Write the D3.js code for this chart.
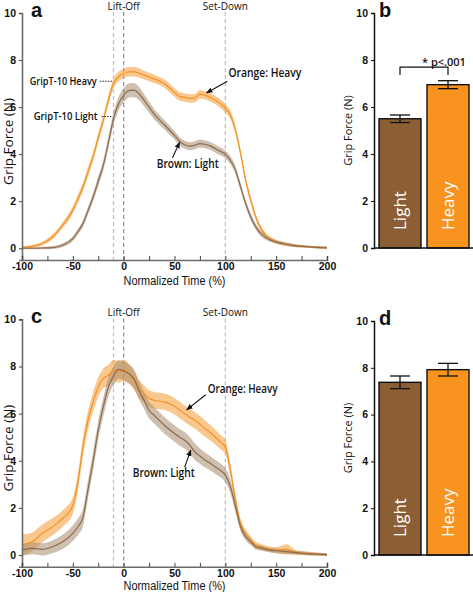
<!DOCTYPE html>
<html><head><meta charset="utf-8">
<script src="https://cdn.jsdelivr.net/npm/d3@7"></script>
<style>body{margin:0;background:#fff} svg{display:block}</style>
</head><body>
<svg id="chart" width="473" height="592"></svg>
<script>
// ---------- DATA ----------
const timePts = [-100,-90,-80,-70,-60,-50,-45,-40,-35,-30,-25,-20,-15,-10,-5,0,5,10,15,20,25,30,40,50,55,60,65,70,75,80,85,90,95,100,105,110,115,120,125,130,135,140,150,160,170,180,190,200];

// Panel a (GripT curves)
const heavyA    = [0.03,0.08,0.2,0.48,0.98,1.62,2.1,2.6,3.25,3.9,4.7,5.45,6.3,7.0,7.3,7.43,7.5,7.5,7.45,7.36,7.28,7.2,7.0,6.62,6.45,6.41,6.37,6.38,6.55,6.5,6.42,6.3,6.15,5.95,5.66,5.02,4.03,2.9,2.04,1.33,0.84,0.55,0.27,0.17,0.1,0.07,0.04,0.02];
const heavyASem = [0.05,0.06,0.08,0.1,0.12,0.15,0.17,0.18,0.2,0.2,0.2,0.2,0.2,0.2,0.2,0.2,0.2,0.2,0.2,0.18,0.18,0.18,0.18,0.18,0.18,0.18,0.18,0.18,0.18,0.18,0.18,0.18,0.18,0.18,0.18,0.18,0.17,0.16,0.15,0.13,0.12,0.1,0.08,0.07,0.06,0.05,0.05,0.05];
const lightA    = [0.0,0.0,0.01,0.03,0.13,0.41,0.7,1.05,1.6,2.18,2.85,3.53,4.5,5.5,6.15,6.5,6.7,6.72,6.58,6.3,6.0,5.7,5.25,4.8,4.55,4.4,4.34,4.38,4.45,4.42,4.35,4.24,4.12,3.99,3.74,3.32,2.61,1.9,1.33,0.91,0.62,0.45,0.27,0.17,0.1,0.07,0.04,0.02];
const lightASem = [0.04,0.04,0.05,0.06,0.08,0.1,0.12,0.14,0.16,0.18,0.2,0.22,0.24,0.26,0.28,0.3,0.3,0.3,0.28,0.26,0.24,0.22,0.2,0.18,0.17,0.17,0.17,0.17,0.17,0.17,0.17,0.17,0.17,0.17,0.17,0.17,0.16,0.15,0.14,0.13,0.12,0.1,0.08,0.07,0.06,0.05,0.05,0.05];

// Panel c (peak-force matched curves)
const heavyC    = [0.42,0.56,0.92,1.2,1.55,2.1,3.1,4.6,5.72,6.5,7.13,7.5,7.63,7.84,7.77,7.84,7.7,7.42,7.06,6.85,6.64,6.57,6.5,6.31,6.15,6.0,5.85,5.72,5.55,5.37,5.2,5.01,4.8,4.59,3.6,2.33,1.34,0.92,0.64,0.42,0.34,0.28,0.21,0.24,0.1,0.07,0.04,0.02];
const heavyCSem = [0.45,0.4,0.38,0.36,0.35,0.35,0.38,0.4,0.4,0.42,0.42,0.42,0.45,0.45,0.45,0.45,0.42,0.4,0.38,0.36,0.35,0.35,0.35,0.35,0.35,0.35,0.35,0.35,0.35,0.35,0.33,0.32,0.3,0.3,0.28,0.25,0.2,0.17,0.15,0.14,0.13,0.12,0.12,0.22,0.1,0.08,0.07,0.06];
const lightC    = [0.21,0.28,0.24,0.35,0.56,0.92,1.2,1.6,2.8,4.0,5.3,6.3,7.13,7.6,7.88,7.81,7.7,7.49,6.99,6.57,6.14,5.93,5.51,5.16,5.0,4.87,4.66,4.38,4.2,4.03,3.9,3.74,3.6,3.39,2.9,2.05,1.2,0.78,0.56,0.35,0.3,0.24,0.18,0.14,0.1,0.06,0.04,0.02];
const lightCSem = [0.25,0.25,0.26,0.27,0.3,0.33,0.35,0.36,0.38,0.4,0.4,0.4,0.4,0.4,0.4,0.4,0.4,0.4,0.38,0.36,0.35,0.35,0.35,0.35,0.35,0.35,0.35,0.35,0.33,0.32,0.3,0.3,0.3,0.3,0.28,0.25,0.2,0.16,0.14,0.12,0.11,0.1,0.1,0.09,0.08,0.07,0.06,0.06];

// Bar panels
const barCategories = ["Light","Heavy"];
const barB    = [5.5, 6.95];
const barBErr = [0.16, 0.17];
const barD    = [7.38, 7.92];
const barDErr = [0.27, 0.27];

// Axes/ticks
const yTickVals = [0,2,4,6,8,10];
const xTickVals = [-100,-75,-50,-25,0,25,50,75,100,125,150,175,200];
const xLabelVals = [-100,-50,0,50,100,150,200];
const eventTimes = [-10, 0, 100];
const eventLabels = [{t:0, text:"Lift-Off"}, {t:100, text:"Set-Down"}];

// ---------- STYLE ----------
const ORANGE="#f39325", ORANGE_BAND="#f7a445", BROWN="#8a6a50", BROWN_BAND="#a88a6c";
const BAR_BROWN="#8b5e34", BAR_ORANGE="#f7931e";
const TXT="Open Sans, sans-serif", TICK="Liberation Sans, Arial, sans-serif";

const svg = d3.select("#chart");
svg.append("defs").append("marker").attr("id","arrow")
  .attr("viewBox","0 0 10 10").attr("refX",9).attr("refY",5)
  .attr("markerWidth",6).attr("markerHeight",6).attr("orient","auto")
  .append("path").attr("d","M0,1 L10,5 L0,9 Z").attr("fill","#111");

function linePanel(o){
  const x = d3.scaleLinear().domain([-100,200]).range([22,327]);
  const y = d3.scaleLinear().domain([-0.5,10]).range([o.yBot, o.yTop]);
  const g = svg.append("g");
  const area = (m,s)=> d3.area().curve(d3.curveMonotoneX)
      .x((d,i)=>x(timePts[i])).y0((d,i)=>y(m[i]-s[i])).y1((d,i)=>y(m[i]+s[i]))(timePts);
  const line = (m)=> d3.line().curve(d3.curveMonotoneX)
      .x((d,i)=>x(timePts[i])).y((d,i)=>y(m[i]))(timePts);

  eventTimes.forEach(t=>{
    g.append("line").attr("x1",x(t)).attr("x2",x(t)).attr("y1",y(10)-1).attr("y2",y(-0.5))
     .attr("stroke", t===0 ? "#8a8a8a" : "#bdbdbd").attr("stroke-width",1.2)
     .attr("stroke-dasharray","4,3");
  });
  eventLabels.forEach(e=>{
    g.append("text").attr("x",x(e.t)).attr("y",y(10)-3).attr("text-anchor","middle")
     .attr("font-family",TXT).attr("font-size",10).attr("fill","#111").text(e.text);
  });

  g.append("path").attr("d",area(o.heavy,o.heavySem)).attr("fill",ORANGE_BAND).attr("opacity",0.6);
  g.append("path").attr("d",area(o.light,o.lightSem)).attr("fill",BROWN_BAND).attr("opacity",0.55);
  g.append("path").attr("d",line(o.heavy)).attr("fill","none").attr("stroke",ORANGE).attr("stroke-width",1.2);
  g.append("path").attr("d",line(o.light)).attr("fill","none").attr("stroke",BROWN).attr("stroke-width",1.2);

  const ya = g.append("g").attr("transform",`translate(${x(-100)},0)`)
     .call(d3.axisLeft(y).tickValues(yTickVals).tickSize(3).tickPadding(3).tickFormat(d3.format("d")));
  const xa = g.append("g").attr("transform",`translate(0,${y(-0.5)})`)
     .call(d3.axisBottom(x).tickValues(xTickVals).tickSize(-4).tickPadding(2.5)
       .tickFormat(d=> xLabelVals.includes(d) ? d : ""));
  [ya,xa].forEach(a=>{
    a.select(".domain").attr("stroke","#6b6b6b").attr("stroke-width",1.6);
    a.selectAll(".tick line").attr("stroke","#444").attr("stroke-width",1);
    a.selectAll("text").attr("font-family",TICK).attr("font-weight","bold").attr("font-size",10.5).attr("fill","#111");
  });

  g.append("text").attr("transform",`translate(${8.5},${(y(10)+y(-0.5))/2+5}) rotate(-90)`)
   .attr("text-anchor","middle").attr("dy","0.35em")
   .attr("font-family",TXT).attr("font-size",13.5).attr("fill","#111").text("Grip Force (N)");
  g.append("text").attr("x",x(50)).attr("y",y(-0.5)+o.titleOff).attr("text-anchor","middle")
   .attr("font-family",TICK).attr("font-size",12).attr("textLength",102).attr("lengthAdjust","spacingAndGlyphs")
   .attr("fill","#111").text("Normalized Time (%)");
  g.append("text").attr("x",31).attr("y",o.yTop+4).attr("font-family",TICK).attr("font-weight","bold")
   .attr("font-size",20).attr("fill","#111").text(o.label);

  o.ann.forEach(a=>{
    if(a.text) g.append("text").attr("x",x(a.tx)).attr("y",y(a.ty)).attr("text-anchor",a.anchor||"start")
      .attr("font-family",TXT).attr("font-weight",a.weight||600).attr("font-size",a.size||12)
      .attr("textLength",a.len).attr("lengthAdjust","spacingAndGlyphs").attr("fill","#111").text(a.text);
    if(a.arrow) g.append("line").attr("x1",x(a.arrow[0])).attr("y1",y(a.arrow[1]))
      .attr("x2",x(a.arrow[2])).attr("y2",y(a.arrow[3])).attr("stroke","#111").attr("stroke-width",1.1)
      .attr("marker-end","url(#arrow)");
    if(a.leader) g.append("line").attr("x1",x(a.leader[0])).attr("y1",y(a.leader[2]))
      .attr("x2",x(a.leader[1])).attr("y2",y(a.leader[2])).attr("stroke","#111").attr("stroke-width",0.9)
      .attr("stroke-dasharray","1.5,1.2");
  });
}

function barPanel(o){
  const x = d3.scaleBand().domain(barCategories).range([374,474]).paddingInner(0.125).paddingOuter(0.104);
  const y = d3.scaleLinear().domain([0,10]).range([o.yBot,o.yTop]);
  const g = svg.append("g");
  const fills=[BAR_BROWN,BAR_ORANGE];
  barCategories.forEach((c,i)=>{
    g.append("rect").attr("x",x(c)).attr("y",y(o.vals[i])).attr("width",x.bandwidth())
     .attr("height",y(0)-y(o.vals[i])).attr("fill",fills[i]).attr("stroke","#111").attr("stroke-width",1.4);
    const cx = x(c)+x.bandwidth()/2;
    const e0=y(o.vals[i]-o.errs[i]), e1=y(o.vals[i]+o.errs[i]);
    g.append("line").attr("x1",cx).attr("x2",cx).attr("y1",e0).attr("y2",e1).attr("stroke","#111").attr("stroke-width",1.3);
    [e0,e1].forEach(ey=>g.append("line").attr("x1",cx-10).attr("x2",cx+10).attr("y1",ey).attr("y2",ey)
      .attr("stroke","#111").attr("stroke-width",1.3));
    g.append("text").attr("transform",`translate(${cx},${y(0)-18}) rotate(-90)`)
     .attr("dy","0.35em").attr("font-family",TXT).attr("font-size",17)
     .attr("fill","#fff").text(c);
  });
  const ya = g.append("g").attr("transform",`translate(374,0)`)
     .call(d3.axisLeft(y).tickValues(yTickVals).tickSize(3).tickPadding(3));
  ya.select(".domain").attr("stroke","#111").attr("stroke-width",1.5);
  ya.selectAll(".tick line").attr("stroke","#111");
  ya.selectAll("text").attr("font-family",TICK).attr("font-weight","bold").attr("font-size",10.5).attr("fill","#111");
  g.append("line").attr("x1",374).attr("x2",473).attr("y1",y(0)).attr("y2",y(0)).attr("stroke","#111").attr("stroke-width",1.5);
  g.append("text").attr("transform",`translate(348,${(y(0)+y(10))/2}) rotate(-90)`)
   .attr("text-anchor","middle").attr("dy","0.35em")
   .attr("font-family",TXT).attr("font-size",11).attr("fill","#111").text("Grip Force (N)");
  g.append("text").attr("x",379).attr("y",o.yTop+4).attr("font-family",TICK).attr("font-weight","bold")
   .attr("font-size",20).attr("fill","#111").text(o.label);
  if(o.sig){
    const xa=x("Light")+x.bandwidth()/2, xb=x("Heavy")+x.bandwidth()/2;
    const yt=y(o.sig.top), yb=y(o.sig.foot);
    g.append("path").attr("d",`M${xa},${yb}V${yt}H${xb}V${yb}`).attr("fill","none").attr("stroke","#111").attr("stroke-width",1.2);
    g.append("text").attr("x",422).attr("y",yt-1.5).attr("font-family",TXT).attr("font-weight",600)
     .attr("font-size",11).attr("fill","#111").text(o.sig.text);
  }
}

linePanel({yTop:13, yBot:260, label:"a", titleOff:25, heavy:heavyA, heavySem:heavyASem, light:lightA, lightSem:lightASem,
  ann:[
    {text:"Orange: Heavy", tx:103, ty:7.3, len:73, arrow:[102,7.1,81.5,6.6]},
    {text:"Brown: Light", tx:32.5, ty:3.4, len:62, arrow:[48,3.85,55,4.5]},
    {text:"GripT-10 Heavy", tx:-26.5, ty:6.93, len:67, anchor:"end", size:11, leader:[-23.6,-11,7.1]},
    {text:"GripT-10 Light", tx:-25.6, ty:5.45, len:64, anchor:"end", size:11, leader:[-21.6,-10.8,5.6]}
  ]});
linePanel({yTop:319.4, yBot:566.8, label:"c", titleOff:23.2, heavy:heavyC, heavySem:heavyCSem, light:lightC, lightSem:lightCSem,
  ann:[
    {text:"Orange: Heavy", tx:82.6, ty:6.86, len:70, arrow:[80.7,6.8,62,6.16]},
    {text:"Brown: Light", tx:8.9, ty:3.3, len:62, arrow:[60,3.73,66,4.45]}
  ]});
barPanel({yTop:13, yBot:248, label:"b", vals:barB, errs:barBErr, sig:{top:7.7, foot:7.36, text:"* p<.001"}});
barPanel({yTop:321, yBot:555, label:"d", vals:barD, errs:barDErr});
</script>
</body></html>
